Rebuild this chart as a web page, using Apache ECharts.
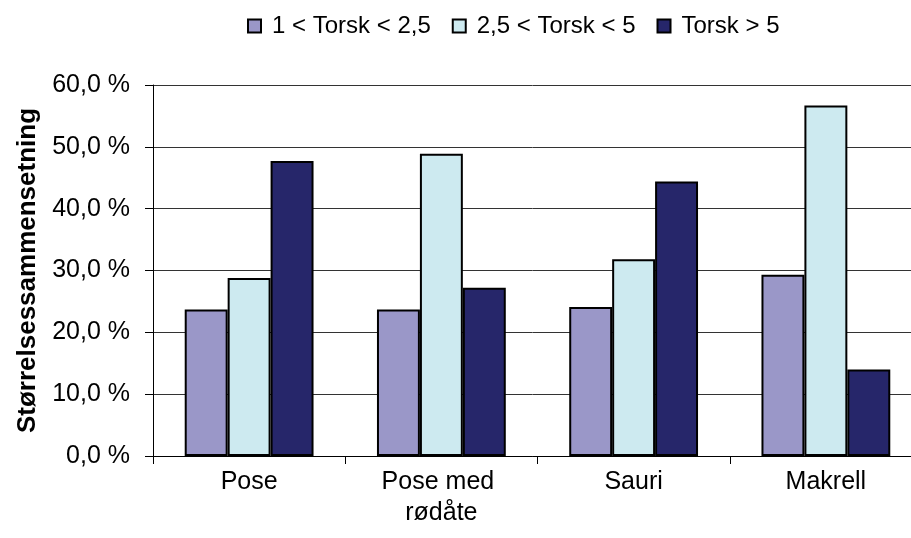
<!DOCTYPE html>
<html>
<head>
<meta charset="utf-8">
<script src="https://cdn.jsdelivr.net/npm/echarts@6/dist/echarts.min.js"></script>
<style>html,body{margin:0;padding:0;background:#fff}#c{width:911px;height:538px}</style>
</head>
<body>
<div id="c"></div>
<script>
var categories = ['Pose', 'Pose med rødåte', 'Sauri', 'Makrell'];
var seriesNames = ['1 < Torsk < 2,5', '2,5 < Torsk < 5', 'Torsk > 5'];
var small = [23.7, 23.7, 24.1, 29.3];
var medium = [28.8, 48.9, 31.8, 56.7];
var large = [47.7, 27.2, 44.4, 14.0];
var yTicks = [0, 10, 20, 30, 40, 50, 60];
var colors = ['#9a97c8', '#cdeaf0', '#26266a'];
var values = [small, medium, large];

var font = 'Arial, "Liberation Sans", sans-serif';
var chart = echarts.init(document.getElementById('c'), null, {renderer: 'canvas'});
chart.setOption({
  animation: false,
  legend: {
    top: 9, left: 242,
    itemWidth: 13, itemHeight: 13, itemGap: 21,
    icon: 'rect',
    textStyle: {fontFamily: font, fontSize: 24, color: '#000', padding: [0, 0, 0, 6]},
    data: seriesNames
  },
  grid: {left: 153, top: 85, width: 769, bottom: 82, outerBoundsMode: 'none', containLabel: false},
  xAxis: {
    type: 'category',
    data: categories,
    axisLine: {lineStyle: {color: '#000', width: 1}},
    axisTick: {show: true, length: 8, lineStyle: {color: '#000'}},
    axisLabel: {fontFamily: font, fontSize: 25, color: '#000', margin: 11, lineHeight: 31,
      width: 160, overflow: 'break', interval: 0}
  },
  yAxis: {
    type: 'value', min: yTicks[0], max: yTicks[yTicks.length - 1], interval: 10,
    name: 'Størrelsessammensetning', nameLocation: 'middle', nameGap: 112,
    nameTextStyle: {fontFamily: font, fontSize: 26, fontWeight: 'bold', color: '#000'},
    axisLine: {show: true, lineStyle: {color: '#000', width: 1}},
    axisTick: {show: true, length: 8, lineStyle: {color: '#000'}},
    splitLine: {lineStyle: {color: '#333', width: 1}},
    axisLabel: {fontFamily: font, fontSize: 25, color: '#000', margin: 23,
      formatter: function (v) { return v.toFixed(1).replace('.', ',') + ' %'; }}
  },
  series: seriesNames.map(function (n, i) {
    return {
      name: n, type: 'bar', data: values[i],
      barGap: '0%', barCategoryGap: '33%',
      itemStyle: {color: colors[i], borderColor: '#000', borderWidth: 2}
    };
  })
});
</script>
</body>
</html>
